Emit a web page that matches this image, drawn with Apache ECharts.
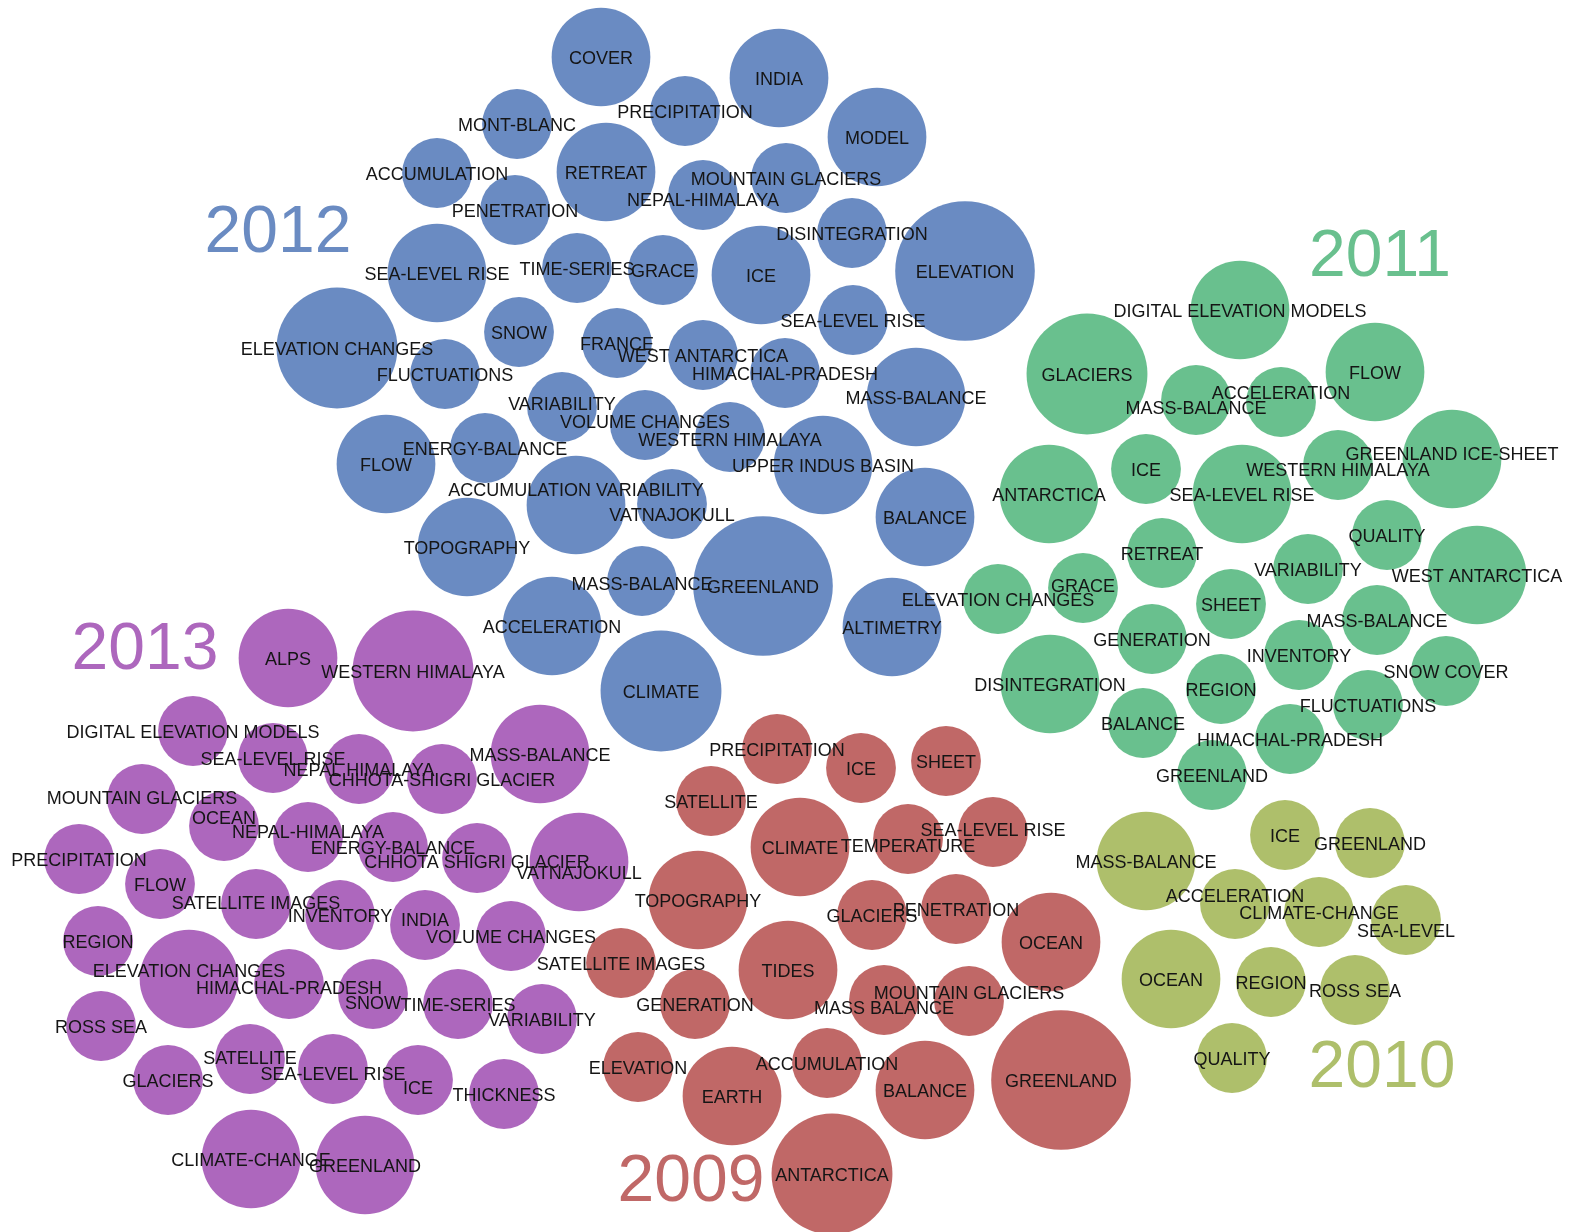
<!DOCTYPE html>
<html>
<head>
<meta charset="utf-8">
<title>Keyword bubbles by year</title>
<script src="https://cdn.jsdelivr.net/npm/echarts@6/dist/echarts.min.js"></script>
<style>
  html, body { margin: 0; padding: 0; background: #fff; }
  #chart { width: 1575px; height: 1232px; }
</style>
</head>
<body>
<div id="chart"></div>
<script>
// each row: [keyword, x, y, paper count]
const terms2012 = [
  ['COVER', 601, 57, 2], ['INDIA', 779, 78, 2], ['MONT-BLANC', 517, 124, 1],
  ['PRECIPITATION', 685, 111, 1], ['MODEL', 877, 137, 2], ['ACCUMULATION', 437, 173, 1],
  ['RETREAT', 606, 172, 2], ['MOUNTAIN GLACIERS', 786, 178, 1], ['NEPAL-HIMALAYA', 703, 195, 1],
  ['PENETRATION', 515, 210, 1], ['DISINTEGRATION', 852, 233, 1], ['SEA-LEVEL RISE', 437, 273, 2],
  ['TIME-SERIES', 577, 268, 1], ['GRACE', 663, 270, 1], ['ICE', 761, 275, 2],
  ['ELEVATION', 965, 271, 4], ['SNOW', 519, 332, 1], ['SEA-LEVEL RISE', 853, 320, 1],
  ['ELEVATION CHANGES', 337, 348, 3], ['FRANCE', 617, 343, 1], ['WEST ANTARCTICA', 703, 355, 1],
  ['FLUCTUATIONS', 445, 374, 1], ['HIMACHAL-PRADESH', 785, 373, 1], ['VARIABILITY', 562, 407, 1],
  ['MASS-BALANCE', 916, 397, 2], ['VOLUME CHANGES', 645, 425, 1], ['WESTERN HIMALAYA', 730, 437, 1],
  ['FLOW', 386, 464, 2], ['ENERGY-BALANCE', 485, 448, 1], ['UPPER INDUS BASIN', 823, 465, 2],
  ['ACCUMULATION VARIABILITY', 576, 505, 2], ['VATNAJOKULL', 672, 504, 1], ['BALANCE', 925, 517, 2],
  ['TOPOGRAPHY', 467, 547, 2], ['MASS-BALANCE', 642, 581, 1], ['GREENLAND', 763, 586, 4],
  ['ACCELERATION', 552, 626, 2], ['ALTIMETRY', 892, 627, 2], ['CLIMATE', 661, 691, 3]
];
const terms2011 = [
  ['DIGITAL ELEVATION MODELS', 1240, 310, 2], ['GLACIERS', 1087, 374, 3], ['FLOW', 1375, 372, 2],
  ['MASS-BALANCE', 1196, 400, 1], ['ACCELERATION', 1281, 402, 1], ['ICE', 1146, 469, 1],
  ['ANTARCTICA', 1049, 494, 2], ['SEA-LEVEL RISE', 1242, 494, 2], ['WESTERN HIMALAYA', 1338, 465, 1],
  ['GREENLAND ICE-SHEET', 1452, 459, 2], ['RETREAT', 1162, 553, 1], ['GRACE', 1083, 588, 1],
  ['ELEVATION CHANGES', 998, 599, 1], ['SHEET', 1231, 604, 1], ['VARIABILITY', 1308, 569, 1],
  ['QUALITY', 1387, 535, 1], ['WEST ANTARCTICA', 1477, 575, 2], ['MASS-BALANCE', 1377, 620, 1],
  ['GENERATION', 1152, 639, 1], ['DISINTEGRATION', 1050, 684, 2], ['INVENTORY', 1299, 655, 1],
  ['REGION', 1221, 689, 1], ['SNOW COVER', 1446, 671, 1], ['FLUCTUATIONS', 1368, 705, 1],
  ['BALANCE', 1143, 723, 1], ['HIMACHAL-PRADESH', 1290, 739, 1], ['GREENLAND', 1212, 775, 1]
];
const terms2010 = [
  ['ICE', 1285, 835, 1], ['GREENLAND', 1370, 843, 1], ['MASS-BALANCE', 1146, 861, 2],
  ['ACCELERATION', 1235, 904, 1], ['CLIMATE-CHANGE', 1319, 912, 1], ['SEA-LEVEL', 1406, 920, 1],
  ['OCEAN', 1171, 979, 2], ['REGION', 1271, 982, 1], ['ROSS SEA', 1355, 990, 1],
  ['QUALITY', 1232, 1058, 1]
];
const terms2009 = [
  ['PRECIPITATION', 777, 749, 1], ['ICE', 861, 768, 1], ['SHEET', 946, 761, 1],
  ['SATELLITE', 711, 801, 1], ['CLIMATE', 800, 847, 2], ['TEMPERATURE', 908, 839, 1],
  ['SEA-LEVEL RISE', 993, 832, 1], ['TOPOGRAPHY', 698, 900, 2], ['GLACIERS', 872, 915, 1],
  ['PENETRATION', 956, 909, 1], ['OCEAN', 1051, 942, 2], ['SATELLITE IMAGES', 621, 963, 1],
  ['TIDES', 788, 970, 2], ['GENERATION', 695, 1004, 1], ['MASS BALANCE', 884, 1000, 1],
  ['MOUNTAIN GLACIERS', 969, 1001, 1], ['GREENLAND', 1061, 1080, 4], ['ELEVATION', 638, 1067, 1],
  ['EARTH', 732, 1096, 2], ['ACCUMULATION', 827, 1063, 1], ['BALANCE', 925, 1090, 2],
  ['ANTARCTICA', 832, 1174, 3]
];
const terms2013 = [
  ['ALPS', 288, 658, 2], ['WESTERN HIMALAYA', 413, 671, 3], ['DIGITAL ELEVATION MODELS', 193, 731, 1],
  ['SEA-LEVEL RISE', 273, 758, 1], ['NEPAL HIMALAYA', 359, 769, 1], ['CHHOTA-SHIGRI GLACIER', 442, 779, 1],
  ['MASS-BALANCE', 540, 754, 2], ['MOUNTAIN GLACIERS', 142, 799, 1], ['OCEAN', 224, 826, 1],
  ['NEPAL-HIMALAYA', 308, 837, 1], ['ENERGY-BALANCE', 393, 847, 1], ['CHHOTA SHIGRI GLACIER', 477, 858, 1],
  ['VATNAJOKULL', 579, 862, 2], ['PRECIPITATION', 79, 859, 1], ['FLOW', 160, 884, 1],
  ['SATELLITE IMAGES', 256, 904, 1], ['INVENTORY', 340, 915, 1], ['INDIA', 425, 925, 1],
  ['VOLUME CHANGES', 511, 936, 1], ['REGION', 98, 941, 1], ['ELEVATION CHANGES', 189, 979, 2],
  ['HIMACHAL-PRADESH', 289, 984, 1], ['SNOW', 373, 994, 1], ['TIME-SERIES', 458, 1004, 1],
  ['VARIABILITY', 542, 1019, 1], ['ROSS SEA', 101, 1026, 1], ['GLACIERS', 168, 1080, 1],
  ['SATELLITE', 250, 1059, 1], ['SEA-LEVEL RISE', 333, 1069, 1], ['ICE', 418, 1080, 1],
  ['THICKNESS', 504, 1094, 1], ['CLIMATE-CHANGE', 251, 1159, 2], ['GREENLAND', 365, 1165, 2]
];

const years = ['2012', '2011', '2010', '2009', '2013'];
const yearTerms = [terms2012, terms2011, terms2010, terms2009, terms2013];
const yearLabelAt = [[278, 231], [1380, 255], [1382, 1066], [691, 1180], [145, 648]];
const yearColors = ['#6a8bc2', '#69c08e', '#aebf6b', '#c06867', '#ad67bd'];

// labels that were pushed up/down to avoid colliding with a neighbour
// key: year + '|' + keyword (+ '#n' for the n-th repeat in the same year)
const labelNudge = {
  '2012|NEPAL-HIMALAYA': 4, '2012|VARIABILITY': -4, '2012|VOLUME CHANGES': -4,
  '2012|WESTERN HIMALAYA': 2, '2012|ACCUMULATION VARIABILITY': -16, '2012|VATNAJOKULL': 10,
  '2012|MASS-BALANCE#2': 2,
  '2011|MASS-BALANCE': 7, '2011|ACCELERATION': -10, '2011|WESTERN HIMALAYA': 4,
  '2011|GREENLAND ICE-SHEET': -6, '2011|GRACE': -3,
  '2010|ACCELERATION': -9, '2010|SEA-LEVEL': 10,
  '2009|TEMPERATURE': 6, '2009|SEA-LEVEL RISE': -3, '2009|MASS BALANCE': 7,
  '2009|MOUNTAIN GLACIERS': -9,
  '2013|MOUNTAIN GLACIERS': -2, '2013|OCEAN': -9, '2013|NEPAL-HIMALAYA': -6,
  '2013|CHHOTA SHIGRI GLACIER': 3, '2013|VATNAJOKULL': 10, '2013|SATELLITE IMAGES': -2,
  '2013|INDIA': -6, '2013|ELEVATION CHANGES': -9, '2013|HIMACHAL-PRADESH': 3,
  '2013|SNOW': 8, '2013|SATELLITE': -2, '2013|SEA-LEVEL RISE#2': 4, '2013|ICE': 7
};

const unitRadius = 34.9;
const textBaselineFix = 2; // caps sit a bit high when middle-aligned
const font = '"Liberation Sans", Arial, Helvetica, sans-serif';

const chart = echarts.init(document.getElementById('chart'));

const bubbleSeries = years.map((year, i) => {
  const seen = {};
  const nudges = yearTerms[i].map(([term]) => {
    seen[term] = (seen[term] || 0) + 1;
    const key = year + '|' + term + (seen[term] > 1 ? '#' + seen[term] : '');
    return labelNudge[key] || 0;
  });
  return {
    name: year,
    type: 'scatter',
    data: yearTerms[i].map(([term, x, y, count]) => ({ name: term, value: [x, y, count] })),
    symbol: 'circle',
    symbolSize: v => 2 * unitRadius * Math.sqrt(v[2]),
    itemStyle: { color: yearColors[i], opacity: 1 },
    label: {
      show: true,
      position: 'inside',
      formatter: p => p.name,
      color: '#151515',
      fontSize: 18,
      fontFamily: font
    },
    labelLayout: p => ({ dy: textBaselineFix + nudges[p.dataIndex], hideOverlap: false }),
    emphasis: { disabled: true },
    z: 2
  };
});

const yearSeries = {
  name: 'years',
  type: 'scatter',
  symbolSize: 0,
  itemStyle: { opacity: 1 },
  data: years.map((year, i) => ({
    name: year,
    value: yearLabelAt[i],
    label: { color: yearColors[i] }
  })),
  label: {
    show: true,
    position: 'inside',
    formatter: p => p.name,
    fontSize: 66,
    fontFamily: font
  },
  labelLayout: { dy: 3 },
  emphasis: { disabled: true },
  z: 1
};

chart.setOption({
  animation: false,
  backgroundColor: '#fff',
  grid: { left: 0, right: 0, top: 0, bottom: 0 },
  xAxis: { type: 'value', min: 0, max: 1575, show: false },
  yAxis: { type: 'value', min: 0, max: 1232, inverse: true, show: false },
  tooltip: { show: false },
  series: [yearSeries].concat(bubbleSeries)
});
</script>
</body>
</html>
